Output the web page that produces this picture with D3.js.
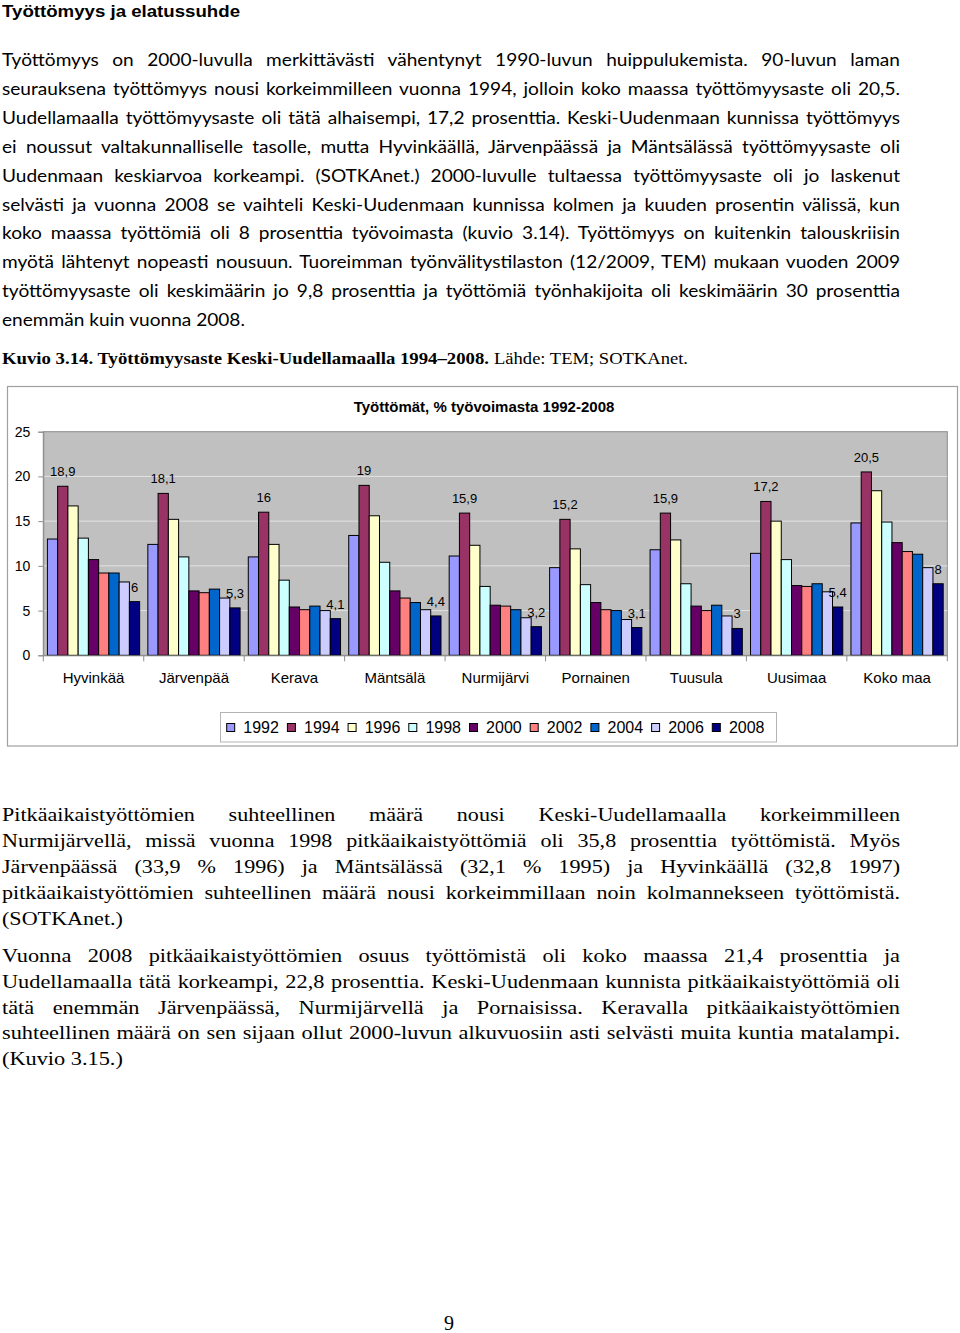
<!DOCTYPE html>
<html><head><meta charset="utf-8">
<script src="https://cdn.jsdelivr.net/npm/d3@7"></script>
<style>body{margin:0;background:#fff} svg{display:block}</style>
</head><body>
<svg id="page" width="960" height="1333"></svg>
<script>
// ---------- DATA ----------
const categories = ["Hyvinkää","Järvenpää","Kerava","Mäntsälä","Nurmijärvi","Pornainen","Tuusula","Uusimaa","Koko maa"];
const years = ["1992","1994","1996","1998","2000","2002","2004","2006","2008"];
const v1992 = [13.0, 12.4, 11.0, 13.4, 11.1, 9.8, 11.8, 11.4, 14.8];
const v1994 = [18.9, 18.1, 16.0, 19.0, 15.9, 15.2, 15.9, 17.2, 20.5];
const v1996 = [16.7, 15.2, 12.4, 15.6, 12.3, 11.9, 12.9, 15.0, 18.4];
const v1998 = [13.1, 11.0, 8.4, 10.4, 7.7, 7.9, 8.0, 10.7, 14.9];
const v2000 = [10.7, 7.2, 5.4, 7.2, 5.6, 5.9, 5.5, 7.8, 12.6];
const v2002 = [9.2, 7.0, 5.1, 6.4, 5.5, 5.1, 5.0, 7.7, 11.6];
const v2004 = [9.2, 7.4, 5.5, 5.9, 5.1, 5.0, 5.6, 8.0, 11.3];
const v2006 = [8.2, 6.4, 5.0, 5.1, 4.2, 4.0, 4.4, 7.1, 9.8];
const v2008 = [6.0, 5.3, 4.1, 4.4, 3.2, 3.1, 3.0, 5.4, 8.0];
const seriesValues = [v1992, v1994, v1996, v1998, v2000, v2002, v2004, v2006, v2008];
const seriesColors = ["#9999ff","#993366","#ffffcc","#ccffff","#660066","#ff8080","#0066cc","#ccccff","#000080"];
const labelledYears = ["1994","2008"];
const yTicks = [0, 5, 10, 15, 20, 25];
const chartTitle = "Työttömät, % työvoimasta 1992-2008";

const heading = "Työttömyys ja elatussuhde";
const para1 = [
 "Työttömyys on 2000-luvulla merkittävästi vähentynyt 1990-luvun huippulukemista. 90-luvun laman",
 "seurauksena työttömyys nousi korkeimmilleen vuonna 1994, jolloin koko maassa työttömyysaste oli 20,5.",
 "Uudellamaalla työttömyysaste oli tätä alhaisempi, 17,2 prosenttia. Keski-Uudenmaan kunnissa työttömyys",
 "ei noussut valtakunnalliselle tasolle, mutta Hyvinkäällä, Järvenpäässä ja Mäntsälässä työttömyysaste oli",
 "Uudenmaan keskiarvoa korkeampi. (SOTKAnet.) 2000-luvulle tultaessa työttömyysaste oli jo laskenut",
 "selvästi ja vuonna 2008 se vaihteli Keski-Uudenmaan kunnissa kolmen ja kuuden prosentin välissä, kun",
 "koko maassa työttömiä oli 8 prosenttia työvoimasta (kuvio 3.14). Työttömyys on kuitenkin talouskriisin",
 "myötä lähtenyt nopeasti nousuun. Tuoreimman työnvälitystilaston (12/2009, TEM) mukaan vuoden 2009",
 "työttömyysaste oli keskimäärin jo 9,8 prosenttia ja työttömiä työnhakijoita oli keskimäärin 30 prosenttia",
 "enemmän kuin vuonna 2008."
];
const captionBold = "Kuvio 3.14. Työttömyysaste Keski-Uudellamaalla 1994–2008.";
const captionRegular = "Lähde: TEM; SOTKAnet.";
const para2 = [
 "Pitkäaikaistyöttömien suhteellinen määrä nousi Keski-Uudellamaalla korkeimmilleen",
 "Nurmijärvellä, missä vuonna 1998 pitkäaikaistyöttömiä oli 35,8 prosenttia työttömistä. Myös",
 "Järvenpäässä (33,9 % 1996) ja Mäntsälässä (32,1 % 1995) ja Hyvinkäällä (32,8 1997)",
 "pitkäaikaistyöttömien suhteellinen määrä nousi korkeimmillaan noin kolmannekseen työttömistä.",
 "(SOTKAnet.)"
];
const para3 = [
 "Vuonna 2008 pitkäaikaistyöttömien osuus työttömistä oli koko maassa 21,4 prosenttia ja",
 "Uudellamaalla tätä korkeampi, 22,8 prosenttia. Keski-Uudenmaan kunnista pitkäaikaistyöttömiä oli",
 "tätä enemmän Järvenpäässä, Nurmijärvellä ja Pornaisissa. Keravalla pitkäaikaistyöttömien",
 "suhteellinen määrä on sen sijaan ollut 2000-luvun alkuvuosiin asti selvästi muita kuntia matalampi.",
 "(Kuvio 3.15.)"
];
const pageNumber = "9";

// ---------- HELPERS ----------
const svg = d3.select("#page");
const SANS = "'Liberation Sans', Arial, sans-serif";
const SERIF = "'Liberation Serif', 'Times New Roman', serif";
const BODY = "Lato, 'Open Sans', sans-serif";

function fit(sel, width, justify) {
  const nat = sel.node().getComputedTextLength();
  const spaces = (sel.text().match(/ /g) || []).length;
  if (justify && nat < width && spaces > 0) {
    sel.style("word-spacing", ((width - nat) / spaces) + "px");
  } else {
    sel.attr("textLength", width).attr("lengthAdjust", "spacingAndGlyphs");
  }
}

// draws a justified paragraph; horizontal scale taken from the last (unjustified) line's width
function paragraph(lines, opts) {
  const g = svg.append("g");
  const texts = lines.map(t => g.append("text").attr("x", 0).attr("y", 0)
    .style("font-family", opts.font).style("font-size", opts.size + "px")
    .attr("fill", "#000").text(t));
  const lastNat = texts[texts.length - 1].node().getComputedTextLength();
  const sx = opts.lastWidth / lastNat;
  texts.forEach((s, i) => {
    s.attr("transform", `translate(2,${opts.y0 + i * opts.dy}) scale(${sx},1)`);
    if (i < texts.length - 1) fit(s, 898 / sx, true);
  });
}

// ---------- PAGE TEXT ----------
const h = svg.append("text").attr("x", 2).attr("y", 17)
  .style("font-family", "'Liberation Sans Narrow', 'Liberation Sans', Arial, sans-serif")
  .style("font-size", "16px").style("font-weight", "bold").text(heading);
fit(h, 238, false);

paragraph(para1, {y0: 66, dy: 28.9, font: BODY, size: 18, lastWidth: 243});

const cb = svg.append("text").attr("x", 2).attr("y", 363.5)
  .style("font-family", SERIF).style("font-size", "17.5px").style("font-weight", "bold").text(captionBold);
fit(cb, 487, false);
const cr = svg.append("text").attr("x", 494).attr("y", 363.5)
  .style("font-family", SERIF).style("font-size", "17.5px").text(captionRegular);
fit(cr, 194, false);

paragraph(para2, {y0: 821, dy: 26, font: SERIF, size: 19, lastWidth: 121});
paragraph(para3, {y0: 962, dy: 25.8, font: SERIF, size: 19, lastWidth: 121});

svg.append("text").attr("x", 449).attr("y", 1330).attr("text-anchor", "middle")
  .style("font-family", SERIF).style("font-size", "20px").text(pageNumber);

// ---------- CHART ----------
const chart = svg.append("g");
chart.append("rect").attr("x", 7.5).attr("y", 386.5).attr("width", 950).attr("height", 359.5)
  .attr("fill", "#fff").attr("stroke", "#a0a0a0").attr("stroke-width", 1.2);

const plot = {l: 43.3, r: 947.3, t: 431.7, b: 655.3};
const x0 = d3.scaleBand().domain(categories).range([plot.l, plot.r]).paddingInner(0).paddingOuter(0);
const x1 = d3.scaleBand().domain(years).range([0, x0.bandwidth()]).paddingInner(0).paddingOuter(0.4);
const y = d3.scaleLinear().domain([0, 25]).range([plot.b, plot.t]);

chart.append("rect").attr("x", plot.l).attr("y", plot.t)
  .attr("width", plot.r - plot.l).attr("height", plot.b - plot.t)
  .attr("fill", "#c0c0c0").attr("stroke", "#8c8c8c").attr("stroke-width", 1);

chart.append("g").selectAll("line").data(yTicks.filter(d => d > 0 && d < 25)).join("line")
  .attr("x1", plot.l).attr("x2", plot.r)
  .attr("y1", d => y(d)).attr("y2", d => y(d))
  .attr("stroke", "#e2e2e2").attr("stroke-width", 1);

chart.append("text").attr("x", 484).attr("y", 411.5).attr("text-anchor", "middle")
  .style("font-family", SANS).style("font-size", "15px").style("font-weight", "bold")
  .text(chartTitle);

// bars
const rows = [];
years.forEach((yr, si) => categories.forEach((c, ci) => rows.push({year: yr, cat: c, v: seriesValues[si][ci], color: seriesColors[si]})));

chart.append("g").selectAll("rect").data(rows).join("rect")
  .attr("x", d => x0(d.cat) + x1(d.year))
  .attr("y", d => y(d.v))
  .attr("width", x1.bandwidth())
  .attr("height", d => y(0) - y(d.v))
  .attr("fill", d => d.color)
  .attr("stroke", "#000").attr("stroke-width", 1);

// data labels
chart.append("g").selectAll("text").data(rows.filter(d => labelledYears.includes(d.year))).join("text")
  .attr("x", d => x0(d.cat) + x1(d.year) + x1.bandwidth() / 2)
  .attr("y", d => y(d.v) - 10)
  .attr("text-anchor", "middle")
  .style("font-family", SANS).style("font-size", "13px")
  .text(d => String(d.v).replace(".", ","));

// y axis
const yAxis = chart.append("g").attr("transform", `translate(${plot.l},0)`)
  .call(d3.axisLeft(y).tickValues(yTicks).tickSize(5).tickPadding(8).tickFormat(d => d));
yAxis.select(".domain").attr("stroke", "#8c8c8c");
yAxis.selectAll(".tick line").attr("stroke", "#8c8c8c");
yAxis.selectAll("text").style("font-family", SANS).style("font-size", "14px").attr("fill", "#000");

// x axis
const xAxis = chart.append("g").attr("transform", `translate(0,${plot.b})`)
  .call(d3.axisBottom(x0).tickSize(0).tickPadding(17.5));
xAxis.select(".domain").attr("stroke", "#8c8c8c");
xAxis.selectAll("text").style("font-family", SANS).style("font-size", "15px").attr("fill", "#000");
const bounds = categories.map(c => x0(c)).concat([x0(categories[categories.length - 1]) + x0.bandwidth()]);
chart.append("g").selectAll("line").data(bounds).join("line")
  .attr("x1", d => d).attr("x2", d => d)
  .attr("y1", plot.b).attr("y2", plot.b + 6)
  .attr("stroke", "#8c8c8c");

// legend
chart.append("rect").attr("x", 220.5).attr("y", 712.5).attr("width", 556).attr("height", 29.5)
  .attr("fill", "#fff").attr("stroke", "#b4b4b4");
const lx = d3.scalePoint().domain(years).range([226.7, 226.7 + 8 * 60.7]);
const leg = chart.append("g").selectAll("g").data(years).join("g")
  .attr("transform", d => `translate(${lx(d)},723.5)`);
leg.append("rect").attr("width", 8).attr("height", 8)
  .attr("fill", (d, i) => seriesColors[i]).attr("stroke", "#000").attr("stroke-width", 1);
leg.append("text").attr("x", 16.6).attr("y", 9.5)
  .style("font-family", SANS).style("font-size", "16px").text(d => d);
</script>
</body></html>
